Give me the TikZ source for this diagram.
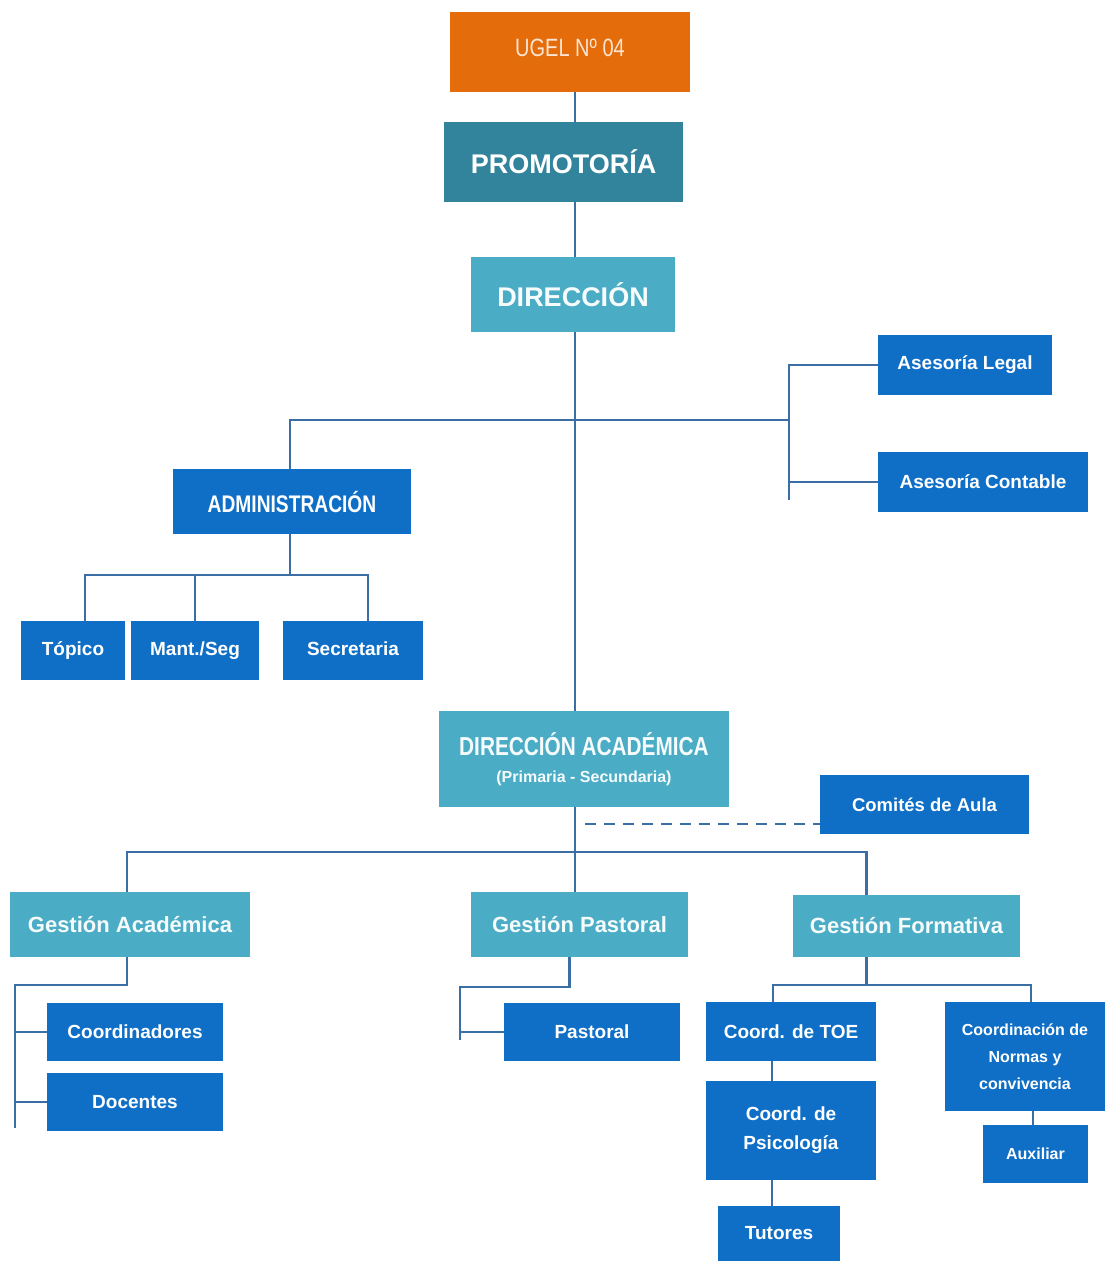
\documentclass[tikz,border=0pt]{standalone}
\usepackage{fontspec}
\setmainfont{Liberation Sans}
\newfontfamily\narrowf[FakeStretch=0.8]{Liberation Sans}
\usetikzlibrary{calc}
\definecolor{ugelc}{HTML}{E46C0A}
\definecolor{tealc}{HTML}{31849B}
\definecolor{lightc}{HTML}{4BACC6}
\definecolor{darkc}{HTML}{0F6FC6}
\definecolor{linec}{HTML}{3A6EA5}
\definecolor{ugeltxt}{HTML}{FCE4D2}
\tikzset{
  box/.style={rectangle, inner sep=0pt, text=white, align=center, font=\bfseries\fontsize{19}{22}\selectfont},
  dbox/.style={box, fill=darkc},
  lbox/.style={box, fill=lightc, text=white!95!lightc},
  conn/.style={draw=linec, line width=2.4pt},
  dashconn/.style={conn, dash pattern=on 11pt off 8pt},
}
\begin{document}
\begin{tikzpicture}[x=1pt,y=-1pt]
\useasboundingbox (0,0) rectangle (1105,1261);
\fill[white] (0,0) rectangle (1105,1261);
% nodes
\node[box, fill=ugelc, text=ugeltxt, minimum width=240pt, minimum height=80pt, font=\narrowf\fontsize{25}{28}\selectfont] (ugel) at (570,52) {\raisebox{9pt}{UGEL Nº 04}};
\node[box, fill=tealc, minimum width=239pt, minimum height=80pt, font=\bfseries\fontsize{27}{30}\selectfont] (promo) at (563.5,162) {PROMOTORÍA};
\node[lbox, minimum width=204pt, minimum height=75pt, font=\bfseries\fontsize{27}{30}\selectfont] (dir) at (573,294.5) {DIRECCIÓN};
\node[dbox, minimum width=174pt, minimum height=60pt] (legal) at (965,365) {Asesoría Legal};
\node[dbox, minimum width=210pt, minimum height=60pt] (contable) at (983,482) {Asesoría Contable};
\node[dbox, minimum width=238pt, minimum height=65pt, font=\narrowf\bfseries\fontsize{24}{27}\selectfont] (adm) at (292,501.5) {ADMINISTRACIÓN};
\node[dbox, minimum width=104pt, minimum height=59pt, text depth=4pt] (topico) at (73,650.5) {Tópico};
\node[dbox, minimum width=128pt, minimum height=59pt, text depth=4pt] (mant) at (195,650.5) {Mant./Seg};
\node[dbox, minimum width=140pt, minimum height=59pt, text depth=4pt] (secre) at (353,650.5) {Secretaria};
\node[lbox, minimum width=290pt, minimum height=96pt] (da) at (584,759) {{\narrowf\bfseries\fontsize{26}{28}\selectfont DIRECCIÓN ACADÉMICA}\\[5pt]{\bfseries\fontsize{16}{18}\selectfont (Primaria - Secundaria)}};
\node[dbox, minimum width=209pt, minimum height=59pt, font=\bfseries\fontsize{18.5}{22}\selectfont] (comites) at (924.5,804.5) {Comités de Aula};
\node[lbox, minimum width=240pt, minimum height=65pt, font=\bfseries\fontsize{22}{25}\selectfont] (ga) at (130,924.5) {Gestión Académica};
\node[lbox, minimum width=217pt, minimum height=65pt, font=\bfseries\fontsize{22}{25}\selectfont] (gp) at (579.5,924.5) {Gestión Pastoral};
\node[lbox, minimum width=227pt, minimum height=62pt, font=\bfseries\fontsize{22}{25}\selectfont] (gf) at (906.5,926) {Gestión Formativa};
\node[dbox, minimum width=176pt, minimum height=58pt] (coord) at (135,1032) {Coordinadores};
\node[dbox, minimum width=176pt, minimum height=58pt] (doc) at (135,1102) {Docentes};
\node[dbox, minimum width=176pt, minimum height=58pt] (pastoral) at (592,1032) {Pastoral};
\node[dbox, minimum width=170pt, minimum height=59pt] (toe) at (791,1031.5) {Coord. de TOE};
\node[dbox, minimum width=170pt, minimum height=99pt, font=\bfseries\fontsize{19}{29}\selectfont] (psico) at (791,1130.5) {Coord. de\\Psicología};
\node[dbox, minimum width=122pt, minimum height=55pt] (tut) at (779,1233.5) {Tutores};
\node[dbox, minimum width=160pt, minimum height=109pt, font=\bfseries\fontsize{16}{27}\selectfont] (normas) at (1025,1056.5) {Coordinación de\\Normas y\\convivencia};
\node[dbox, minimum width=105pt, minimum height=58pt, font=\bfseries\fontsize{16}{19}\selectfont] (aux) at (1035.5,1154) {Auxiliar};
% junction coordinates
\coordinate (tx) at (575,0);
\coordinate (ab) at (789,420);
\coordinate (abus) at (290,575);
\coordinate (gbus) at (575,852);
\coordinate (dj) at (585,824);
\coordinate (gal) at (15,985);
\coordinate (galb) at (15,1128);
\coordinate (gpl) at (460,987);
\coordinate (gplb) at (460,1040);
\coordinate (gfb) at (866.5,985);
\coordinate (abb) at (789,500);
% connectors
\draw[conn] (ugel.south -| tx) -- (promo.north -| tx);
\draw[conn] (promo.south -| tx) -- (dir.north -| tx);
\draw[conn] (dir.south -| tx) -- (da.north -| tx);
\draw[conn] ([xshift=-2pt]adm.north) |- (ab);
\draw[conn] (legal.west) -| (ab) -- (abb);
\draw[conn] (contable.west) -- (contable.west -| ab);
\draw[conn] ([xshift=-2pt]adm.south) -- (abus);
\draw[conn] ([xshift=12pt]topico.north) |- (abus);
\draw[conn] (mant.north) |- (abus);
\draw[conn] ([xshift=15pt]secre.north) |- (abus);
\draw[conn] (da.south -| tx) -- (gp.north -| tx);
\draw[dashconn] (dj) -- (dj -| comites.west);
\draw[conn] ([xshift=-3pt]ga.north) |- (gbus);
\draw[conn] ([xshift=-40pt]gf.north) |- (gbus);
\draw[conn] ([xshift=-3pt]ga.south) |- (gal) -- (galb);
\draw[conn] (coord.west) -- (coord.west -| gal);
\draw[conn] (doc.west) -- (doc.west -| gal);
\draw[conn] ([xshift=-10pt]gp.south) |- (gpl) -- (gplb);
\draw[conn] (pastoral.west) -- (pastoral.west -| gpl);
\draw[conn] ([xshift=-40pt]gf.south) -- (gfb);
\draw[conn] ([xshift=-18pt]toe.north) |- (gfb);
\draw[conn] ([xshift=6pt]normas.north) |- (gfb);
\draw[conn] ([xshift=-19pt]toe.south) -- ([xshift=-19pt]psico.north);
\draw[conn] ([xshift=-19pt]psico.south) -- ([xshift=-7pt]tut.north);
\draw[conn] ([xshift=-2.5pt]aux.north) -- ([xshift=-2.5pt]aux.north |- normas.south);
\end{tikzpicture}
\end{document}
